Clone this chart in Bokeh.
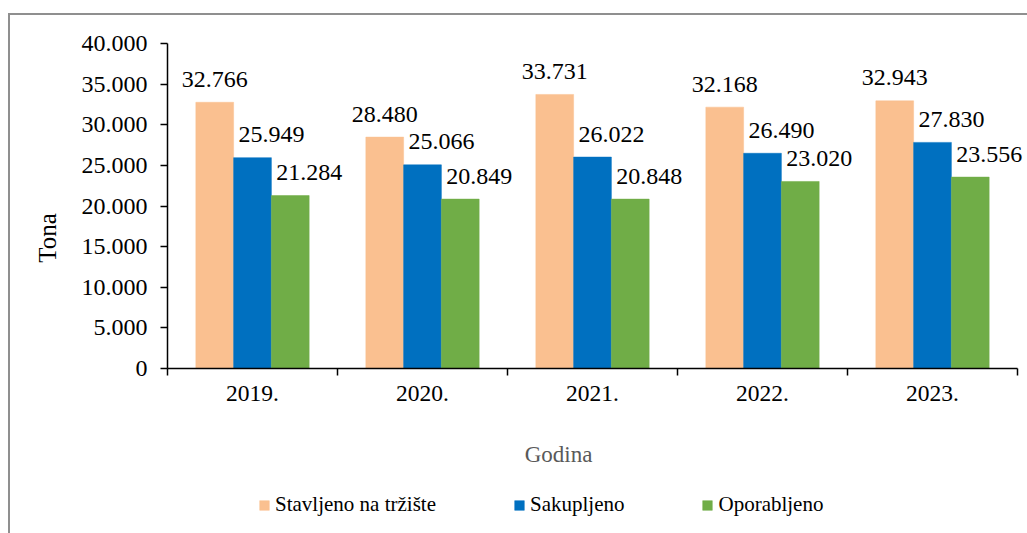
import numpy as np
from bokeh.plotting import figure
from bokeh.models import (ColumnDataSource, Range1d, FixedTicker, Legend, LegendItem,
                          Label, InlineStyleSheet)
from bokeh.core.properties import value
from bokeh.embed import file_html
from bokeh.resources import INLINE

years = ["2019.", "2020.", "2021.", "2022.", "2023."]
series_names = ["Stavljeno na tržište", "Sakupljeno", "Oporabljeno"]
stavljeno = [32766, 28480, 33731, 32168, 32943]
sakupljeno = [25949, 25066, 26022, 26490, 27830]
oporabljeno = [21284, 20849, 20848, 23020, 23556]
y_ticks = [0, 5000, 10000, 15000, 20000, 25000, 30000, 35000, 40000]
y_max = 40000

colors = ["#FAC090", "#0070C0", "#70AD47"]
FONT = "Liberation Serif"


def fmt(v):
    return f"{v:,}".replace(",", ".")


n = len(years)
W, H = 1027, 533
# layout in pixels: plot area inside the canvas
pad_l, pad_r, pad_t, pad_b = 167, 10, 43, 165
px_x = (W - pad_l - pad_r) / n
px_y = (H - pad_t - pad_b) / y_max

p = figure(width=W, height=H, output_backend="svg", toolbar_location=None,
           x_range=Range1d(-pad_l / px_x, n + pad_r / px_x),
           y_range=Range1d(-pad_b / px_y, y_max + pad_t / px_y),
           min_border_left=0, min_border_right=0, min_border_top=0, min_border_bottom=0)
p.outline_line_color = None
p.xgrid.grid_line_color = None
p.ygrid.grid_line_color = None
p.background_fill_color = None
p.border_fill_color = None
p.stylesheets = [InlineStyleSheet(css="""
:host {
  background:
    linear-gradient(#8f8f8f, #8f8f8f) 8px 13px / 2px calc(100% - 13px) no-repeat,
    linear-gradient(#8f8f8f, #8f8f8f) 8px 13px / calc(100% - 8px) 2px no-repeat,
    #ffffff;
}
""")]

bar_w = 1 / 4.5
offsets = [-bar_w, 0.0, bar_w]
label_dx = [0, 19, 19]
centers = np.arange(n) + 0.5

renderers = []
for vals, off, col, dx in zip([stavljeno, sakupljeno, oporabljeno], offsets, colors, label_dx):
    src = ColumnDataSource(dict(x=centers + off, top=vals, lab=[fmt(v) for v in vals]))
    r = p.vbar(x="x", top="top", width=bar_w, bottom=0, source=src,
               fill_color=col, line_color=col, line_width=0.5)
    renderers.append(r)
    p.text(x="x", y="top", text="lab", source=src, text_align="center",
           text_baseline="alphabetic", x_offset=dx, y_offset=-23,
           text_font=value(FONT), text_font_size="24px", text_color="black")

# y axis
ya = p.yaxis[0]
ya.fixed_location = 0
ya.bounds = (0, y_max)
ya.ticker = FixedTicker(ticks=y_ticks)
ya.major_label_overrides = {t: fmt(t) for t in y_ticks}
ya.major_label_text_font = FONT
ya.major_label_text_font_size = "24px"
ya.major_label_text_color = "black"
ya.major_tick_out = 7
ya.major_tick_in = 0
ya.minor_tick_out = 0
ya.minor_tick_in = 0
ya.axis_line_color = "black"
ya.axis_line_width = 1.5
ya.major_tick_line_color = "black"
ya.major_tick_line_width = 1.5
ya.major_label_standoff = 13

# x axis
xa = p.xaxis[0]
xa.fixed_location = 0
xa.bounds = (0, n)
xa.ticker = FixedTicker(ticks=list(centers), minor_ticks=list(range(n + 1)))
xa.major_label_overrides = {float(c): y for c, y in zip(centers, years)}
xa.major_label_text_font = FONT
xa.major_label_text_font_size = "23.5px"
xa.major_label_text_color = "black"
xa.major_tick_out = 0
xa.major_tick_in = 0
xa.minor_tick_out = 7
xa.minor_tick_in = 0
xa.minor_tick_line_color = "black"
xa.minor_tick_line_width = 1.5
xa.axis_line_color = "black"
xa.axis_line_width = 1.5
xa.major_label_standoff = 10

# axis titles
p.add_layout(Label(x=47, y=H - 237.5, x_units="screen", y_units="screen", text="Tona",
                   angle=np.pi / 2, text_align="center", text_baseline="middle",
                   text_font=FONT, text_font_size="25px", text_color="black"))
p.add_layout(Label(x=558, y=H - 454, x_units="screen", y_units="screen", text="Godina",
                   text_align="center", text_baseline="middle",
                   text_font=FONT, text_font_size="23px", text_color="#595959"))

legend = Legend(items=[LegendItem(label=s, renderers=[r]) for s, r in zip(series_names, renderers)],
                orientation="horizontal", location=(258, H - 517), padding=0, margin=0,
                spacing=77, glyph_width=12, glyph_height=12, label_standoff=5,
                label_text_font=FONT, label_text_font_size="21px", label_text_color="black",
                border_line_color=None, background_fill_alpha=0)
p.add_layout(legend, "center")

open("out.html", "w").write(file_html(p, INLINE))
